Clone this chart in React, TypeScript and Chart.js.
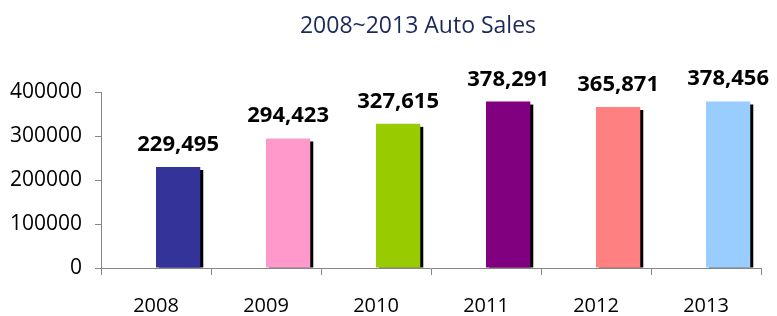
import React, { useEffect, useRef } from "react";
import { Chart, registerables } from "chart.js";

Chart.register(...registerables);

const TITLE = "2008~2013 Auto Sales";
const years = ["2008", "2009", "2010", "2011", "2012", "2013"];
const sales = [229495, 294423, 327615, 378291, 365871, 378456];
const barColors = ["#333399", "#FF99CC", "#99CC00", "#800080", "#FF8080", "#99CCFF"];
const yTicks = [0, 100000, 200000, 300000, 400000];

const FONT = "'Open Sans', 'Noto Sans', sans-serif";
const AXIS_COLOR = "#868686";

export default function App() {
  const ref = useRef<HTMLCanvasElement>(null);

  useEffect(() => {
    document.body.style.margin = "0";
    const canvas = ref.current;
    if (!canvas) return;

    const shadowPlugin = {
      id: "barShadow",
      beforeDatasetsDraw(chart: any) {
        const meta = chart.getDatasetMeta(1);
        const area = chart.chartArea;
        const ctx = chart.ctx;
        ctx.save();
        ctx.beginPath();
        ctx.rect(area.left, 0, area.right - area.left, area.bottom);
        ctx.clip();
        ctx.fillStyle = "#000000";
        meta.data.forEach((bar: any) => {
          const { x, y, width, base } = bar.getProps(["x", "y", "width", "base"], true);
          ctx.fillRect(x - width / 2 + 3, y + 3, width, base - y - 3);
        });
        ctx.restore();
      },
    };

    const labelPlugin = {
      id: "valueLabels",
      afterDatasetsDraw(chart: any) {
        const meta = chart.getDatasetMeta(1);
        const ctx = chart.ctx;
        ctx.save();
        ctx.font = `bold 22px ${FONT}`;
        ctx.fillStyle = "#000000";
        ctx.textAlign = "center";
        ctx.textBaseline = "alphabetic";
        meta.data.forEach((bar: any, i: number) => {
          const { x, y } = bar.getProps(["x", "y"], true);
          ctx.fillText(sales[i].toLocaleString("en-US"), x, y - 16);
        });
        ctx.restore();
      },
    };

    const titlePlugin = {
      id: "customTitle",
      afterDraw(chart: any) {
        const ctx = chart.ctx;
        ctx.save();
        ctx.font = `23px ${FONT}`;
        ctx.fillStyle = "#1C2A5A";
        ctx.textAlign = "center";
        ctx.textBaseline = "alphabetic";
        ctx.fillText(TITLE, 418, 33);
        ctx.restore();
      },
    };

    const chart = new Chart(canvas, {
      type: "bar",
      data: {
        labels: years,
        datasets: [
          {
            label: "",
            data: years.map(() => null),
            backgroundColor: "rgba(0,0,0,0)",
          },
          {
            label: "Sales",
            data: sales,
            backgroundColor: barColors,
            borderWidth: 0,
          },
        ],
      },
      options: {
        responsive: false,
        animation: false,
        layout: { padding: { top: 92, right: 16, left: 0, bottom: 0 } },
        datasets: { bar: { categoryPercentage: 0.805, barPercentage: 1 } },
        plugins: {
          legend: { display: false },
          tooltip: { enabled: false },
          title: { display: false },
        },
        scales: {
          x: {
            offset: true,
            grid: {
              offset: true,
              drawOnChartArea: false,
              drawTicks: true,
              tickLength: 7,
              color: AXIS_COLOR,
            },
            border: { color: AXIS_COLOR },
            ticks: {
              color: "#000000",
              font: { family: FONT, size: 20 },
              padding: 19,
              maxRotation: 0,
              autoSkip: false,
            },
            afterFit: (s: any) => {
              s.height = 48;
            },
          },
          y: {
            min: 0,
            max: 400000,
            afterBuildTicks: (s: any) => {
              s.ticks = yTicks.map((v) => ({ value: v }));
            },
            grid: {
              drawOnChartArea: false,
              drawTicks: true,
              tickLength: 6,
              color: AXIS_COLOR,
            },
            border: { color: AXIS_COLOR },
            ticks: {
              color: "#000000",
              font: { family: FONT, size: 21 },
              padding: 13,
              callback: (v: any) => String(v),
            },
            afterFit: (s: any) => {
              s.width = 101;
            },
          },
        },
      },
      plugins: [shadowPlugin, labelPlugin, titlePlugin],
    });

    return () => chart.destroy();
  }, []);

  return (
    <div style={{ width: 777, height: 316 }}>
      <canvas ref={ref} width={777} height={316} style={{ display: "block" }} />
    </div>
  );
}
